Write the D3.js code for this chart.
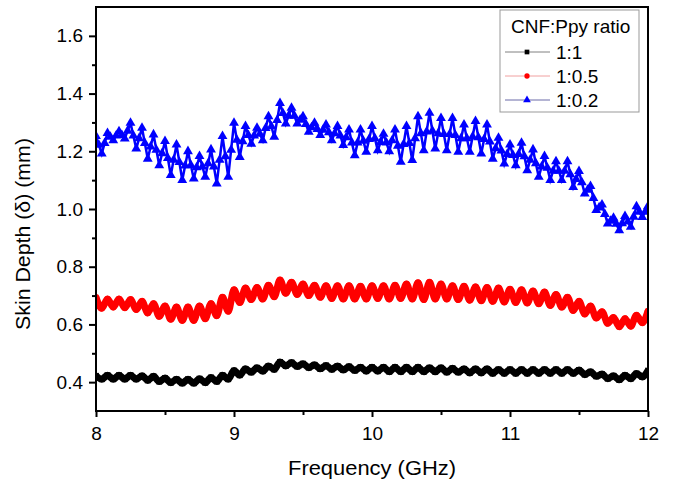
<!DOCTYPE html>
<html>
<head>
<meta charset="utf-8">
<script src="https://cdn.jsdelivr.net/npm/d3@7"></script>
<style>
  body { margin: 0; background: #fff; }
  svg { display: block; font-family: "Liberation Sans", Arial, sans-serif; }
</style>
</head>
<body>
<svg id="chart" width="676" height="485"></svg>
<script>
// frequency sweep 8-12 GHz; black & red read at every peak/trough,
// blue read at quarter-wave points of the ripple
const sweepStart = 8, sweepStop = 12;

const xTicks = [8, 9, 10, 11, 12];
const xMinorTicks = [8.5, 9.5, 10.5, 11.5];
const yTicks = [0.4, 0.6, 0.8, 1.0, 1.2, 1.4, 1.6];
const yMinorTicks = [0.5, 0.7, 0.9, 1.1, 1.3, 1.5];

const seriesNames = ['1:1', '1:0.5', '1:0.2'];

const depth11 = [
  0.422,0.410, 0.424,0.410, 0.424,0.410, 0.424,0.410, 0.422,0.406, 0.420,0.402, 0.414,0.398, 0.410,0.396, 0.410,0.396, 0.412,0.398, 0.416,0.402, 0.424,0.410,
  0.440,0.424, 0.446,0.434, 0.450,0.438, 0.456,0.444, 0.470,0.456, 0.468,0.454, 0.464,0.450, 0.460,0.446, 0.458,0.444, 0.456,0.442, 0.454,0.440, 0.452,0.438,
  0.452,0.438, 0.452,0.436, 0.452,0.436, 0.452,0.436, 0.452,0.436, 0.450,0.436, 0.450,0.434, 0.448,0.434, 0.446,0.432, 0.446,0.432, 0.446,0.430, 0.444,0.430,
  0.444,0.430, 0.444,0.430, 0.444,0.430, 0.444,0.430, 0.444,0.430, 0.444,0.430, 0.442,0.426, 0.436,0.420, 0.428,0.412, 0.422,0.408, 0.424,0.412, 0.430,0.418,
  0.440
];

const depth105 = [
  0.694,0.656, 0.688,0.660, 0.688,0.658, 0.686,0.652, 0.680,0.640, 0.672,0.628, 0.664,0.618, 0.660,0.614, 0.660,0.614, 0.664,0.620, 0.672,0.630, 0.694,0.646,
  0.720,0.676, 0.726,0.686, 0.728,0.688, 0.736,0.696, 0.754,0.708, 0.746,0.704, 0.740,0.700, 0.736,0.694, 0.734,0.690, 0.734,0.688, 0.734,0.688, 0.732,0.688,
  0.734,0.690, 0.734,0.688, 0.736,0.690, 0.740,0.688, 0.744,0.686, 0.746,0.688, 0.740,0.688, 0.734,0.686, 0.732,0.684, 0.730,0.682, 0.728,0.680, 0.726,0.678,
  0.722,0.676, 0.720,0.674, 0.716,0.672, 0.712,0.666, 0.704,0.660, 0.694,0.648, 0.680,0.636, 0.664,0.622, 0.644,0.604, 0.624,0.592, 0.620,0.594, 0.632,0.606,
  0.646
];

const depth102 = [
  1.252,1.222,1.192,1.228, 1.263,1.250,1.238,1.254, 1.269,1.256,1.244,1.271, 1.298,1.254,1.209,1.245,
  1.281,1.228,1.174,1.216, 1.258,1.205,1.151,1.193, 1.235,1.176,1.117,1.170, 1.223,1.162,1.100,1.150,
  1.200,1.152,1.105,1.144, 1.183,1.147,1.111,1.158, 1.206,1.147,1.088,1.170, 1.252,1.182,1.111,1.205,
  1.298,1.239,1.180,1.234, 1.287,1.256,1.226,1.254, 1.281,1.260,1.238,1.280, 1.321,1.286,1.250,1.308,
  1.367,1.332,1.296,1.323, 1.350,1.323,1.296,1.309, 1.321,1.294,1.267,1.283, 1.298,1.277,1.256,1.274,
  1.292,1.265,1.238,1.262, 1.287,1.254,1.221,1.248, 1.275,1.230,1.186,1.230, 1.275,1.236,1.198,1.242,
  1.287,1.245,1.203,1.232, 1.260,1.230,1.200,1.238, 1.275,1.219,1.163,1.225, 1.287,1.228,1.169,1.245,
  1.321,1.262,1.203,1.268, 1.333,1.271,1.209,1.262, 1.315,1.259,1.203,1.259, 1.315,1.256,1.198,1.245,
  1.292,1.245,1.198,1.251, 1.304,1.248,1.192,1.242, 1.292,1.233,1.174,1.210, 1.246,1.202,1.157,1.190,
  1.223,1.187,1.151,1.190, 1.229,1.182,1.134,1.170, 1.206,1.158,1.111,1.147, 1.183,1.142,1.100,1.132,
  1.165,1.132,1.100,1.132, 1.165,1.120,1.076,1.103, 1.131,1.092,1.053,1.066, 1.079,1.038,0.996,1.005,
  1.015,0.982,0.949,0.959, 0.969,0.948,0.926,0.950, 0.975,0.956,0.938,0.973, 1.009,0.990,0.972,0.990,
  1.010
];

const sweep = n => d3.range(n).map(i => sweepStart + i * (sweepStop - sweepStart) / (n - 1));

const margin = { top: 7, right: 28, bottom: 74, left: 96 };
const width = 676 - margin.left - margin.right;
const height = 485 - margin.top - margin.bottom;

const svg = d3.select('#chart');
svg.append('rect').attr('width', 676).attr('height', 485).attr('fill', '#fff');

const g = svg.append('g').attr('transform', `translate(${margin.left},${margin.top})`);

const x = d3.scaleLinear().domain([8, 12]).range([0, width]);
const y = d3.scaleLinear().domain([0.3, 1.7]).range([height, 0]);

g.append('defs').append('clipPath').attr('id', 'plotClip')
  .append('rect').attr('width', width).attr('height', height);

const plot = g.append('g').attr('clip-path', 'url(#plotClip)');

const toPoints = (vals) => {
  const f = sweep(vals.length);
  return vals.map((v, i) => ({ f: f[i], v }));
};

const series = [
  { name: seriesNames[0], pts: toPoints(depth11), color: '#000', sym: d3.symbolSquare },
  { name: seriesNames[1], pts: toPoints(depth105), color: '#ff0000', sym: d3.symbolCircle },
  { name: seriesNames[2], pts: toPoints(depth102), color: '#0000ff', sym: d3.symbolTriangle }
];

const smooth = d3.line().x(d => x(d.f)).y(d => y(d.v)).curve(d3.curveMonotoneX);

// black and red: dense symbols merge into a thick ribbon
series.slice(0, 2).forEach(s => {
  plot.append('path')
    .datum(s.pts)
    .attr('d', smooth)
    .attr('fill', 'none')
    .attr('stroke', s.color)
    .attr('stroke-width', 7)
    .attr('stroke-linejoin', 'round');
  plot.append('g').selectAll('path')
    .data(s.pts)
    .join('path')
    .attr('d', d3.symbol().type(s.sym).size(34))
    .attr('transform', d => `translate(${x(d.f)},${y(d.v)})`)
    .attr('fill', s.color);
});

// blue: line with big overlapping triangles
const blue = series[2];
plot.append('path')
  .datum(blue.pts)
  .attr('d', d3.line().x(d => x(d.f)).y(d => y(d.v)))
  .attr('fill', 'none')
  .attr('stroke', blue.color)
  .attr('stroke-width', 2.5);
plot.append('g').selectAll('path')
  .data(blue.pts)
  .join('path')
  .attr('d', d3.symbol().type(d3.symbolTriangle).size(42))
  .attr('transform', d => `translate(${x(d.f)},${y(d.v)})`)
  .attr('fill', blue.color);

// axes
const styleAxis = sel => {
  sel.select('.domain').remove();
  sel.selectAll('line').attr('stroke', '#000').attr('stroke-width', 2);
  sel.selectAll('text').attr('fill', '#000').style('font-size', '19px')
    .style('font-family', '"Liberation Sans", Arial, sans-serif');
};

g.append('g')
  .attr('transform', `translate(0,${height})`)
  .call(d3.axisBottom(x).tickValues(xTicks).tickSize(6).tickPadding(10).tickFormat(d3.format('d')))
  .call(styleAxis);
g.append('g')
  .attr('transform', `translate(0,${height})`)
  .call(d3.axisBottom(x).tickValues(xMinorTicks).tickSize(4).tickFormat(''))
  .call(styleAxis);

g.append('g')
  .call(d3.axisLeft(y).tickValues(yTicks).tickSize(7).tickPadding(6).tickFormat(d3.format('.1f')))
  .call(styleAxis);
g.append('g')
  .call(d3.axisLeft(y).tickValues(yMinorTicks).tickSize(4).tickFormat(''))
  .call(styleAxis);

// frame
g.append('rect')
  .attr('width', width).attr('height', height)
  .attr('fill', 'none').attr('stroke', '#000').attr('stroke-width', 2);

// titles
svg.append('text')
  .attr('x', margin.left + width / 2).attr('y', 475)
  .attr('text-anchor', 'middle')
  .attr('textLength', 168).attr('lengthAdjust', 'spacingAndGlyphs')
  .style('font-size', '20px')
  .text('Frequency (GHz)');

svg.append('text')
  .attr('transform', 'translate(30,234) rotate(-90)')
  .attr('text-anchor', 'middle')
  .attr('textLength', 192).attr('lengthAdjust', 'spacingAndGlyphs')
  .style('font-size', '20px')
  .text('Skin Depth (δ) (mm)');

// legend
const legend = svg.append('g').attr('transform', 'translate(500,10)');
legend.append('rect')
  .attr('width', 139).attr('height', 102)
  .attr('fill', '#fff').attr('stroke', '#999').attr('stroke-width', 1);
legend.append('text')
  .attr('x', 11).attr('y', 22.5)
  .style('font-size', '19px')
  .text('CNF:Ppy ratio');

const legendLine = ['#808080', '#f0a0a0', '#6a6aa8'];
series.forEach((s, i) => {
  const yy = 42 + i * 24;
  legend.append('line')
    .attr('x1', 5).attr('x2', 50).attr('y1', yy).attr('y2', yy)
    .attr('stroke', legendLine[i]).attr('stroke-width', 1);
  legend.append('path')
    .attr('d', d3.symbol().type(s.sym).size(i === 2 ? 26 : 22)())
    .attr('transform', `translate(27,${yy})`)
    .attr('fill', s.color);
  legend.append('text')
    .attr('x', 56).attr('y', yy + 6.5)
    .style('font-size', '19px')
    .text(s.name);
});
</script>
</body>
</html>
